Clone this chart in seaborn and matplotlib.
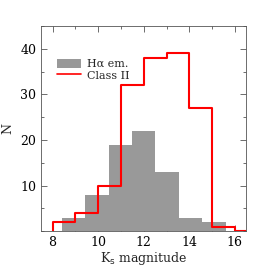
import numpy as np
import matplotlib
matplotlib.use('Agg')
import matplotlib.pyplot as plt
import seaborn as sns
from matplotlib.ticker import MultipleLocator
from matplotlib.patches import Patch
from matplotlib.lines import Line2D

# Halpha emission stars: bin edges and counts
ha_edges = [8.4, 9.43, 10.46, 11.49, 12.51, 13.54, 14.57, 15.6]
ha_counts = [3, 8, 19, 22, 13, 3, 2]

# Class II stars: bin edges and counts (zero-width first bin so the step starts at 0)
c2_edges = [8, 8, 9, 10, 11, 12, 13, 14, 15, 16, 17]
c2_counts = [0, 2, 4, 10, 32, 38, 39, 27, 1, 0]

sns.set_style('ticks')
plt.rcParams['font.family'] = ['DejaVu Serif']
plt.rcParams['font.size'] = 9

fig = plt.figure(figsize=(2.73, 2.73), dpi=100)
ax = fig.add_axes([0.151, 0.153, 0.751, 0.752])

ha_centers = [(a + b) / 2 for a, b in zip(ha_edges[:-1], ha_edges[1:])]
c2_centers = [(a + b) / 2 for a, b in zip(c2_edges[:-1], c2_edges[1:])]

sns.histplot(x=ha_centers, weights=ha_counts, bins=ha_edges, ax=ax,
             color='#999999', alpha=1, edgecolor='none', linewidth=0)
sns.histplot(x=c2_centers, weights=c2_counts, bins=c2_edges, ax=ax,
             element='step', fill=False, color='red', linewidth=1.5)

ax.set_xlim(7.5, 16.5)
ax.set_ylim(0, 45)
ax.xaxis.set_major_locator(MultipleLocator(2))
ax.xaxis.set_minor_locator(MultipleLocator(1))
ax.yaxis.set_major_locator(MultipleLocator(10))
ax.yaxis.set_minor_locator(MultipleLocator(5))
ax.set_yticks([10, 20, 30, 40])
ax.tick_params(which='both', direction='in', top=True, right=True, width=0.6,
               labelsize=9, colors='#555555', labelcolor='black')
ax.tick_params(which='major', length=4)
ax.tick_params(which='minor', length=2)
for s in ax.spines.values():
    s.set_linewidth(0.6)
    s.set_color('#555555')

ax.set_xlabel('K$_\\mathrm{s}$ magnitude', fontsize=9, labelpad=1)
ax.set_ylabel('N', fontsize=9, labelpad=4)

handles = [Patch(facecolor='#999999', edgecolor='none'),
           Line2D([0], [0], color='red', lw=1.2)]
ax.legend(handles, ['Hα em.', 'Class II'], loc='upper left',
          bbox_to_anchor=(0.03, 0.89), frameon=False, fontsize=8,
          handlelength=2.1, handleheight=0.9, handletextpad=0.6,
          labelspacing=0.1, borderpad=0.4)

fig.savefig('out.png', dpi=100)
